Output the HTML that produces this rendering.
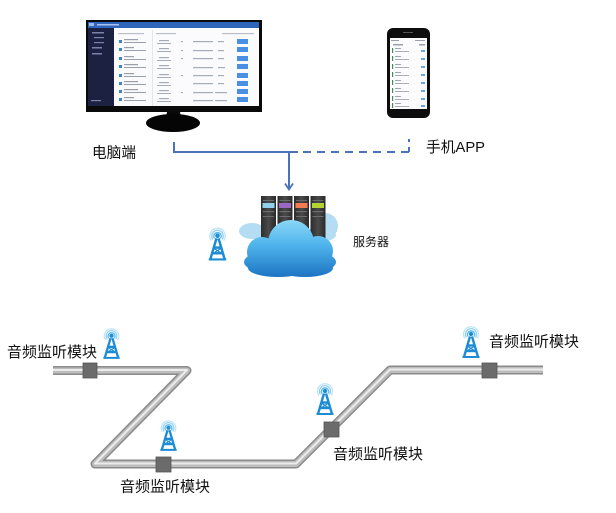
<!DOCTYPE html>
<html>
<head>
<meta charset="utf-8">
<style>
html,body{margin:0;padding:0;background:#fff;}
body{width:616px;height:513px;overflow:hidden;}
svg{display:block;}
text{font-family:"Liberation Sans","Noto Sans CJK SC",sans-serif;fill:#111;}
</style>
</head>
<body>
<svg width="616" height="513" viewBox="0 0 616 513" xmlns="http://www.w3.org/2000/svg">
<defs>
  <symbol id="ant" viewBox="0 0 24 34">
    <g fill="none" stroke-linecap="round">
      <path d="M5.5,13.5 A7.5,7.5 0 1 1 18.5,13.5" stroke="#bfe4f7" stroke-width="1.3"/>
      <path d="M7.2,12.6 A5.6,5.6 0 1 1 16.8,12.6" stroke="#8fd0f2" stroke-width="1.3"/>
      <path d="M8.8,11.6 A3.6,3.6 0 1 1 15.2,11.6" stroke="#5cb8ea" stroke-width="1.3"/>
    </g>
    <circle cx="12" cy="9.5" r="2.2" fill="#1d8fd6"/>
    <g stroke="#1d8cd4" stroke-width="2.4" fill="none" stroke-linejoin="round">
      <path d="M11,12 L5,32.5"/>
      <path d="M13,12 L19,32.5"/>
      <path d="M8.5,21 L15.5,21"/>
      <path d="M7,26.5 L17,26.5"/>
      <path d="M8.3,21.5 L16,26.5 M15.7,21.5 L8,26.5" stroke-width="1.2"/>
      <path d="M3.5,32.5 L20.5,32.5" stroke-width="2"/>
    </g>
  </symbol>
  <linearGradient id="cloudg" x1="0" y1="218" x2="0" y2="278" gradientUnits="userSpaceOnUse">
    <stop offset="0" stop-color="#8fdaf9"/>
    <stop offset="0.45" stop-color="#4fb4ec"/>
    <stop offset="1" stop-color="#1b72c2"/>
  </linearGradient>
  <linearGradient id="rackg" x1="0" y1="0" x2="1" y2="0">
    <stop offset="0" stop-color="#2c2c2c"/>
    <stop offset="0.5" stop-color="#4a4a4a"/>
    <stop offset="1" stop-color="#2a2a2a"/>
  </linearGradient>
</defs>

<!-- Monitor -->
<rect x="86" y="20" width="176" height="92" fill="#0a0a0a"/>
<rect x="88" y="22" width="171" height="84" fill="#fbfbfd"/>
<rect x="88" y="22" width="171" height="6" fill="#2f66bd"/>
<rect x="89" y="23" width="5" height="3" fill="#9fb8e0"/>
<rect x="97" y="24" width="22" height="1.5" fill="#aac3ea"/>
<rect x="88" y="28" width="26" height="78" fill="#1c2142"/>
<g fill="#7b84a8">
  <rect x="92" y="32" width="12" height="1.5"/>
  <rect x="94" y="37" width="10" height="1.2"/>
  <rect x="94" y="42" width="10" height="1.2"/>
  <rect x="92" y="47" width="10" height="1.5"/>
  <rect x="92" y="53" width="10" height="1.5"/>
  <rect x="91" y="100" width="10" height="1.2"/>
</g>
<rect x="152" y="30" width="0.8" height="76" fill="#dde3ec"/>
<g fill="#b9bfca">
  <rect x="118" y="33" width="26" height="1.2"/>
  <rect x="156" y="33" width="20" height="1.2"/>
  <rect x="222" y="33" width="32" height="1.2"/>
</g>
<g>
  <g fill="#3a86c8">
    <rect x="119" y="40" width="3" height="3"/><rect x="119" y="48" width="3" height="3"/>
    <rect x="119" y="57" width="3" height="3"/><rect x="119" y="65" width="3" height="3"/>
    <rect x="119" y="74" width="3" height="3"/><rect x="119" y="82" width="3" height="3"/>
    <rect x="119" y="90" width="3" height="3"/><rect x="119" y="98" width="3" height="3"/>
  </g>
  <g fill="#9aa0ab">
    <rect x="124" y="39" width="14" height="1.2"/><rect x="124" y="42" width="22" height="1"/>
    <rect x="124" y="47" width="10" height="1.2"/><rect x="124" y="50" width="22" height="1"/>
    <rect x="124" y="56" width="10" height="1.2"/><rect x="124" y="59" width="22" height="1"/>
    <rect x="124" y="64" width="14" height="1.2"/><rect x="124" y="67" width="22" height="1"/>
    <rect x="124" y="73" width="10" height="1.2"/><rect x="124" y="76" width="22" height="1"/>
    <rect x="124" y="81" width="14" height="1.2"/><rect x="124" y="84" width="22" height="1"/>
    <rect x="124" y="89" width="14" height="1.2"/><rect x="124" y="92" width="22" height="1"/>
    <rect x="124" y="97" width="10" height="1.2"/><rect x="124" y="100" width="22" height="1"/>
  </g>
  <g fill="#a7adb8">
    <rect x="159" y="40" width="10" height="1.2"/><rect x="157" y="43" width="14" height="1"/>
    <rect x="159" y="48" width="10" height="1.2"/><rect x="157" y="51" width="14" height="1"/>
    <rect x="159" y="57" width="10" height="1.2"/><rect x="157" y="60" width="14" height="1"/>
    <rect x="159" y="65" width="10" height="1.2"/><rect x="157" y="68" width="14" height="1"/>
    <rect x="159" y="74" width="10" height="1.2"/><rect x="157" y="77" width="14" height="1"/>
    <rect x="159" y="82" width="10" height="1.2"/><rect x="157" y="85" width="14" height="1"/>
    <rect x="159" y="90" width="10" height="1.2"/><rect x="157" y="93" width="14" height="1"/>
    <rect x="159" y="98" width="10" height="1.2"/><rect x="157" y="101" width="14" height="1"/>
    <rect x="181" y="41" width="2" height="1.2"/><rect x="181" y="50" width="2" height="1.2"/>
    <rect x="181" y="58" width="2" height="1.2"/><rect x="181" y="75" width="2" height="1.2"/>
    <rect x="181" y="92" width="2" height="1.2"/>
    <rect x="193" y="41" width="20" height="1.2"/><rect x="193" y="50" width="20" height="1.2"/>
    <rect x="193" y="58" width="20" height="1.2"/><rect x="193" y="67" width="20" height="1.2"/>
    <rect x="193" y="75" width="20" height="1.2"/><rect x="193" y="83" width="20" height="1.2"/>
    <rect x="193" y="92" width="20" height="1.2"/><rect x="193" y="100" width="20" height="1.2"/>
    <rect x="218" y="41" width="6" height="1.2"/><rect x="218" y="50" width="6" height="1.2"/>
    <rect x="218" y="58" width="6" height="1.2"/><rect x="218" y="67" width="7" height="1.2"/>
    <rect x="218" y="75" width="6" height="1.2"/><rect x="218" y="83" width="6" height="1.2"/>
    <rect x="215" y="92" width="12" height="1.2"/><rect x="215" y="100" width="12" height="1.2"/>
  </g>
  <g fill="#4a90e2">
    <rect x="237" y="39" width="11" height="5"/><rect x="237" y="47" width="11" height="5"/>
    <rect x="237" y="56" width="11" height="5"/><rect x="237" y="64" width="11" height="5"/>
    <rect x="237" y="73" width="11" height="5"/><rect x="237" y="81" width="11" height="5"/>
    <rect x="237" y="89" width="11" height="5"/><rect x="237" y="97" width="11" height="5"/>
  </g>
</g>
<path d="M167,112 L180,112 L181,117 L166,117 Z" fill="#0a0a0a"/>
<ellipse cx="173" cy="123" rx="27" ry="9" fill="#050505"/>

<!-- Phone -->
<rect x="387" y="28" width="43" height="90" rx="6" fill="#0d0d0d"/>
<rect x="390" y="38" width="37" height="71" fill="#fcfcfc"/>
<rect x="403" y="32" width="10" height="1" fill="#555"/>
<g fill="#9aa0ab">
  <rect x="391" y="40" width="8" height="1"/><rect x="415" y="40" width="10" height="1"/>
  <rect x="393" y="44" width="10" height="1.5"/><rect x="419" y="44" width="6" height="1.5"/>
</g>
<g>
  <g fill="#4a8a5a">
    <rect x="392" y="48" width="1.2" height="5"/><rect x="392" y="56" width="1.2" height="5"/>
    <rect x="392" y="64" width="1.2" height="5"/><rect x="392" y="72" width="1.2" height="5"/>
    <rect x="392" y="80" width="1.2" height="5"/><rect x="392" y="88" width="1.2" height="5"/>
    <rect x="392" y="96" width="1.2" height="5"/><rect x="392" y="103" width="1.2" height="5"/>
  </g>
  <g fill="#a0a6b0">
    <rect x="395" y="48" width="6" height="1"/><rect x="395" y="51" width="14" height="0.9"/>
    <rect x="395" y="56" width="6" height="1"/><rect x="395" y="59" width="14" height="0.9"/>
    <rect x="395" y="64" width="6" height="1"/><rect x="395" y="67" width="14" height="0.9"/>
    <rect x="395" y="72" width="6" height="1"/><rect x="395" y="75" width="14" height="0.9"/>
    <rect x="395" y="80" width="6" height="1"/><rect x="395" y="83" width="14" height="0.9"/>
    <rect x="395" y="88" width="6" height="1"/><rect x="395" y="91" width="14" height="0.9"/>
    <rect x="395" y="96" width="6" height="1"/><rect x="395" y="99" width="14" height="0.9"/>
    <rect x="395" y="103" width="6" height="1"/><rect x="395" y="106" width="14" height="0.9"/>
  </g>
  <g fill="#6aa6dc">
    <rect x="421" y="50" width="4" height="2"/><rect x="421" y="58" width="4" height="2"/>
    <rect x="421" y="66" width="4" height="2"/><rect x="421" y="74" width="4" height="2"/>
    <rect x="421" y="82" width="4" height="2"/><rect x="421" y="90" width="4" height="2"/>
    <rect x="421" y="98" width="4" height="2"/><rect x="421" y="105" width="4" height="2"/>
  </g>
</g>

<!-- Labels top -->
<text x="92" y="157.5" font-size="15" textLength="44" lengthAdjust="spacingAndGlyphs">电脑端</text>
<text x="426" y="152" font-size="15" textLength="59" lengthAdjust="spacingAndGlyphs">手机APP</text>

<!-- Connectors -->
<g stroke="#4a72bb" stroke-width="2" fill="none">
  <path d="M174,142 L174,152 L298,152"/>
  <path d="M303,152 L410,152" stroke-dasharray="8 6"/>
  <path d="M409,152 L409,139" stroke-dasharray="5 5"/>
  <path d="M289,152 L289,189"/>
  <path d="M285,183.5 L289,189.5 L293,183.5" stroke-width="1.8"/>
</g>

<!-- Server + Cloud -->
<g fill="#b4dcf2">
  <ellipse cx="252" cy="231" rx="13" ry="8"/>
  <circle cx="325" cy="226" r="13"/>
  <ellipse cx="318" cy="235" rx="18" ry="7"/>
</g>
<g>
  <rect x="261" y="196" width="15" height="46" fill="url(#rackg)"/>
  <rect x="277.5" y="196" width="15" height="46" fill="url(#rackg)"/>
  <rect x="294" y="196" width="15" height="46" fill="url(#rackg)"/>
  <rect x="310.5" y="196" width="15" height="46" fill="url(#rackg)"/>
  <rect x="262.5" y="203" width="12" height="5" fill="#8fd0ec"/>
  <rect x="279" y="203" width="12" height="5" fill="#9a68c4"/>
  <rect x="295.5" y="203" width="12" height="5" fill="#f47a52"/>
  <rect x="312" y="203" width="12" height="5" fill="#b4d232"/>
  <g fill="#6c6c6c">
    <rect x="263" y="200" width="11" height="1"/><rect x="279.5" y="200" width="11" height="1"/>
    <rect x="296" y="200" width="11" height="1"/><rect x="312.5" y="200" width="11" height="1"/>
    <rect x="263" y="211" width="11" height="1.2"/><rect x="279.5" y="211" width="11" height="1.2"/>
    <rect x="296" y="211" width="11" height="1.2"/><rect x="312.5" y="211" width="11" height="1.2"/>
    <rect x="263" y="216" width="11" height="1"/><rect x="279.5" y="216" width="11" height="1"/>
    <rect x="296" y="216" width="11" height="1"/><rect x="312.5" y="216" width="11" height="1"/>
  </g>
</g>
<g fill="url(#cloudg)">
  <circle cx="291" cy="243" r="23"/>
  <circle cx="262" cy="252" r="15"/>
  <circle cx="318" cy="251" r="15"/>
  <ellipse cx="290" cy="262" rx="46" ry="14"/>
  <ellipse cx="278" cy="268" rx="30" ry="9"/>
  <ellipse cx="305" cy="268" rx="28" ry="9"/>
</g>
<use href="#ant" x="205" y="226" width="25" height="35"/>
<text x="353" y="246" font-size="12" textLength="36" lengthAdjust="spacingAndGlyphs">服务器</text>

<!-- Pipes -->
<g fill="none" stroke-linejoin="round">
  <path d="M53,370.5 L187,370.5 L95,464 L296,464 L390,370 L543,370" stroke="#8a8a8a" stroke-width="9"/>
  <path d="M53,370.5 L187,370.5 L95,464 L296,464 L390,370 L543,370" stroke="#bdbdbd" stroke-width="6"/>
  <path d="M53,370 L187,370 L95,463.5 L296,463.5 L390,369.5 L543,369.5" stroke="#ececec" stroke-width="2"/>
</g>
<g fill="#6b6b6b" stroke="#555" stroke-width="0.8">
  <rect x="83" y="363" width="14" height="15"/>
  <rect x="156" y="457" width="15" height="15"/>
  <rect x="324" y="422" width="15" height="15"/>
  <rect x="482" y="363" width="15" height="15"/>
</g>

<!-- Antennas -->
<use href="#ant" x="100" y="326" width="23" height="34"/>
<use href="#ant" x="157" y="418" width="23" height="34"/>
<use href="#ant" x="313" y="381" width="24" height="35"/>
<use href="#ant" x="459" y="324" width="24" height="35"/>

<!-- Module labels -->
<text x="7" y="357" font-size="15" textLength="90" lengthAdjust="spacingAndGlyphs">音频监听模块</text>
<text x="120" y="491.5" font-size="15" textLength="90" lengthAdjust="spacingAndGlyphs">音频监听模块</text>
<text x="333" y="459" font-size="15" textLength="90" lengthAdjust="spacingAndGlyphs">音频监听模块</text>
<text x="489" y="346.5" font-size="15" textLength="90" lengthAdjust="spacingAndGlyphs">音频监听模块</text>
</svg>
</body>
</html>
